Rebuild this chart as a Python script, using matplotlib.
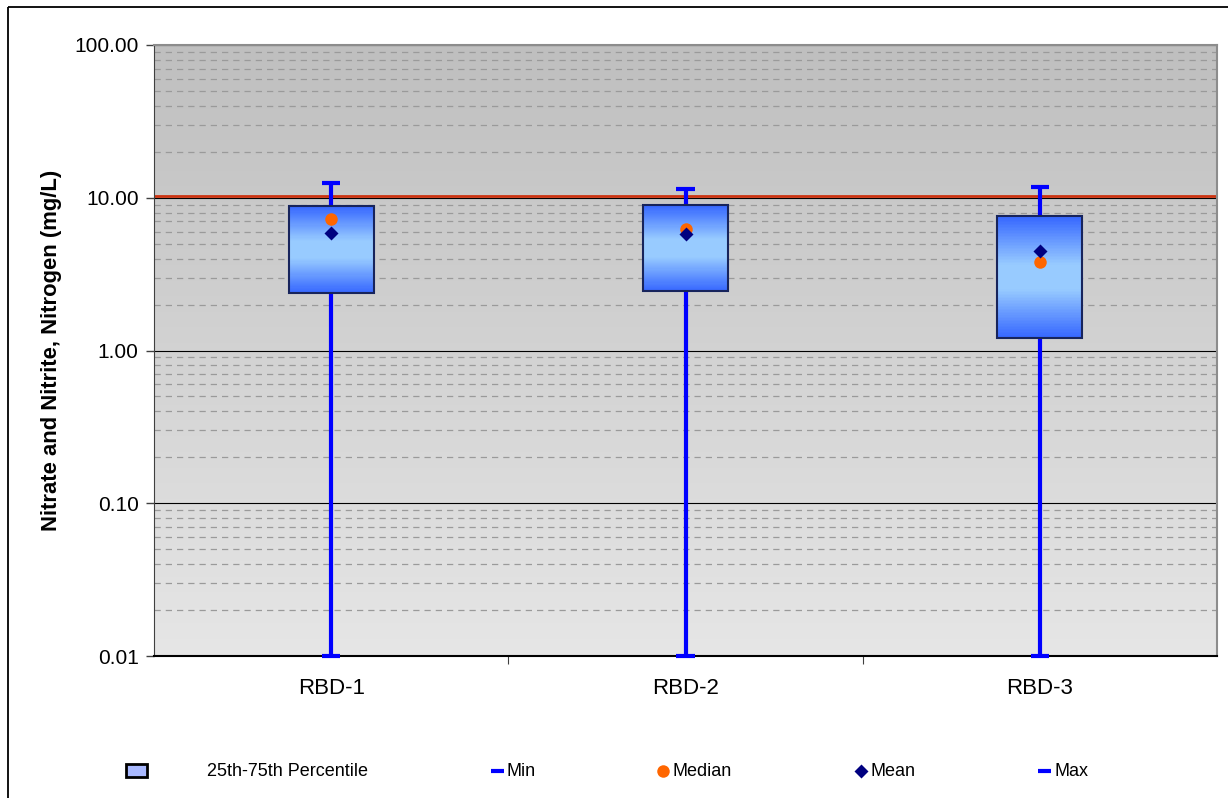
import numpy as np
import matplotlib
matplotlib.use("Agg")
import matplotlib.pyplot as plt
from matplotlib.patches import Rectangle
from matplotlib.colors import to_rgb, LinearSegmentedColormap
from matplotlib.ticker import FixedLocator, LogLocator, FuncFormatter, NullFormatter

plt.rcParams["font.family"] = ["Liberation Sans", "DejaVu Sans"]

# Nitrate + nitrite (as N) summary statistics per station, mg/L
sites = ["RBD-1", "RBD-2", "RBD-3"]
q1 = [2.38, 2.45, 1.21]
q3 = [8.83, 8.96, 7.60]
medians = [7.30, 6.20, 3.78]
means = [5.85, 5.80, 4.48]
mins = [0.01, 0.01, 0.01]
maxs = [12.5, 11.4, 11.7]
standard = 10.2
ytick_values = [0.01, 0.1, 1, 10, 100]

W, H = 1228, 798
fig = plt.figure(figsize=(W / 100, H / 100), dpi=100)
rect = [154 / W, 1 - 656 / H, (1217 - 154) / W, (656 - 45) / H]

# gray gradient plot background
bg = fig.add_axes(rect, zorder=0)
grad = np.linspace(0, 1, 256).reshape(-1, 1)
bg_cmap = LinearSegmentedColormap.from_list("bg", ["#bfbfbf", "#e6e6e6"])
bg.imshow(grad, aspect="auto", cmap=bg_cmap, extent=[0, 1, 0, 1], origin="upper")
bg.axis("off")

ax = fig.add_axes(rect, zorder=1)
ax.patch.set_visible(False)
ax.set_yscale("log")
ax.set_ylim(0.01, 100)
ax.set_xlim(0, len(sites))
xs = np.arange(len(sites)) + 0.5

# grid: solid decades, dashed intermediate values
ax.yaxis.set_major_locator(FixedLocator(ytick_values))
ax.yaxis.set_minor_locator(LogLocator(base=10, subs=np.arange(2, 10)))
ax.yaxis.set_minor_formatter(NullFormatter())
ax.yaxis.set_major_formatter(FuncFormatter(lambda v, p: f"{v:.2f}"))
ax.grid(which="major", axis="y", color="black", lw=0.8, zorder=1)
ax.grid(which="minor", axis="y", color="#9a9a9a", lw=0.9, ls=(0, (5, 4)), zorder=1)
ax.set_axisbelow(True)
ax.tick_params(axis="y", which="major", direction="out", length=6, width=1,
               labelsize=15, pad=5, color="#404040")
ax.tick_params(axis="y", which="minor", length=0)

# x axis: tick marks between stations, labels centred under each
ax.xaxis.set_major_locator(FixedLocator(np.arange(1, len(sites))))
ax.xaxis.set_major_formatter(NullFormatter())
ax.xaxis.set_minor_locator(FixedLocator(xs))
ax.set_xticklabels(sites, minor=True)
ax.tick_params(axis="x", which="major", direction="out", length=6, color="#404040")
ax.tick_params(axis="x", which="minor", length=0, labelsize=16, pad=16)

for s in ["top", "right"]:
    ax.spines[s].set_color("#8c8c8c")
    ax.spines[s].set_linewidth(1.5)
ax.spines["left"].set_color("#404040")
ax.spines["bottom"].set_color("black")
ax.spines["bottom"].set_linewidth(1.5)

ax.set_ylabel("Nitrate and Nitrite, Nitrogen (mg/L)", fontsize=15.8,
              fontweight="bold", labelpad=9)

# standard line
ax.axhline(standard, color="#cc3311", lw=2, zorder=2.5)

# whiskers with caps
blue = "#0000ff"
cap = 0.026
ax.vlines(xs, mins, maxs, color=blue, lw=3, zorder=3, clip_on=False)
ax.hlines(maxs, xs - cap, xs + cap, color=blue, lw=3, zorder=3, clip_on=False)
ax.hlines(mins, xs - cap, xs + cap, color=blue, lw=3, zorder=3, clip_on=False)

# interquartile boxes with a dark-light-dark blue gradient
dark = np.array(to_rgb("#3566ff"))
light = np.array(to_rgb("#98cbff"))
half = 0.12
n = 80
for x, lo, hi in zip(xs, q1, q3):
    edges = np.logspace(np.log10(lo), np.log10(hi), n + 1)
    t = (np.arange(n) + 0.5) / n
    f = 1 - np.abs(2 * t - 1)
    f = np.clip(f * 1.25, 0, 1)
    cols = dark[None, :] * (1 - f[:, None]) + light[None, :] * f[:, None]
    ax.bar(np.full(n, x), np.diff(edges), bottom=edges[:-1], width=2 * half,
           color=cols, linewidth=0, zorder=4)
    ax.bar(x, hi - lo, bottom=lo, width=2 * half, facecolor="none",
           edgecolor="#17245c", linewidth=1.5, zorder=4.5)

ax.plot(xs, medians, "o", color="#ff6600", ms=9, mec="none", zorder=5)
ax.plot(xs, means, "D", color="#000080", ms=7.5, mec="none", zorder=6)

# legend row and outer frame, laid out in pixel units
lg = fig.add_axes([0, 0, 1, 1], zorder=10)
lg.set_xlim(0, W)
lg.set_ylim(H, 0)
lg.axis("off")
lg.add_patch(Rectangle((8, 7), W + 20, H + 20, fill=False, edgecolor="black",
                       lw=1.3, clip_on=False))
ly = 771
lg.add_patch(Rectangle((126, 764), 21, 13, facecolor="#a9b9ff",
                       edgecolor="black", lw=2))
fs = 13
lg.text(207, ly, "25th-75th Percentile", fontsize=fs, va="center")
lg.plot([491, 504], [ly, ly], color=blue, lw=3, solid_capstyle="butt")
lg.text(507, ly, "Min", fontsize=fs, va="center")
lg.plot([663], [ly], "o", color="#ff6600", ms=9, mec="none")
lg.text(673, ly, "Median", fontsize=fs, va="center")
lg.plot([861], [ly], "D", color="#000080", ms=7.5, mec="none")
lg.text(870, ly, "Mean", fontsize=fs, va="center")
lg.plot([1038, 1051], [ly, ly], color=blue, lw=3, solid_capstyle="butt")
lg.text(1054, ly, "Max", fontsize=fs, va="center")

fig.savefig("out.png", dpi=100, facecolor="white")
